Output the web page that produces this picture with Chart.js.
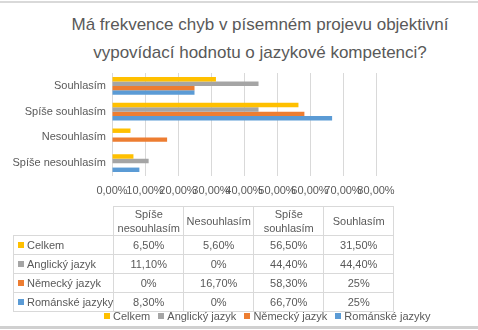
<!DOCTYPE html>
<html>
<head>
<meta charset="utf-8">
<script src="https://cdn.jsdelivr.net/npm/chart.js@4"></script>
<style>
  body { margin: 0; background: #fff; font-family: "Liberation Sans", Arial, sans-serif; color: #595959; }
  #wrap { position: relative; width: 478px; height: 330px; overflow: hidden; }
  #frame { position: absolute; left: 0; top: 1px; width: 478px; height: 323px; border-top: 2px solid #d9d9d9; border-bottom: 3px solid #d0d0d0; }
  #title { position: absolute; left: 42px; top: 11px; width: 436px; text-align: center; font-size: 17px; line-height: 28px; }
  canvas { position: absolute; left: 0; top: 0; }
  #dataTable { position: absolute; left: 13px; top: 206px; border-collapse: collapse; font-size: 11px; }
  #dataTable td, #dataTable th { border: 1px solid #d9d9d9; padding: 0; font-weight: normal; text-align: center; }
  #dataTable th { height: 28px; width: 69px; line-height: 14px; }
  #dataTable th.corner { border-top: none; border-left: none; width: 98px; }
  #dataTable td { height: 18px; }
  #dataTable td.name { text-align: left; padding-left: 4px; white-space: nowrap; }
  .mark { display: inline-block; width: 6px; height: 6px; margin-right: 3px; vertical-align: 1px; }
  #legend { position: absolute; left: 104px; top: 310px; font-size: 11px; white-space: nowrap; }
  #legend span.item { margin-right: 8px; }
</style>
</head>
<body>
<div id="wrap">
  <div id="frame"></div>
  <div id="title">Má frekvence chyb v písemném projevu objektivní<br>vypovídací hodnotu o jazykové kompetenci?</div>
  <canvas id="canvasChart" width="478" height="330"></canvas>
  <table id="dataTable"></table>
  <div id="legend"></div>
</div>
<script>
"use strict";

// categories as drawn top to bottom in the chart
var categories = ['Souhlasím', 'Spíše souhlasím', 'Nesouhlasím', 'Spíše nesouhlasím'];
// categories as listed in the table header
var tableCategories = ['Spíše nesouhlasím', 'Nesouhlasím', 'Spíše souhlasím', 'Souhlasím'];
var tableHeaders = ['Spíše<br>nesouhlasím', 'Nesouhlasím', 'Spíše<br>souhlasím', 'Souhlasím'];

var seriesNames = ['Celkem', 'Anglický jazyk', 'Německý jazyk', 'Románské jazyky'];
var seriesColors = ['#FFC000', '#A5A5A5', '#ED7D31', '#5B9BD5'];

// values in percent, in tableCategories order
var celkem = [6.5, 5.6, 56.5, 31.5];
var anglicky = [11.1, 0, 44.4, 44.4];
var nemecky = [0, 16.7, 58.3, 25];
var romanske = [8.3, 0, 66.7, 25];
var seriesValues = [celkem, anglicky, nemecky, romanske];

var xTicks = [0, 10, 20, 30, 40, 50, 60, 70, 80];

function formatPercent(v) {
    if (Number.isInteger(v)) return v + '%';
    return v.toFixed(2).replace('.', ',') + '%';
}

function valueFor(series, category) {
    return series[tableCategories.indexOf(category)];
}

var datasets = [];
seriesNames.forEach(function (name, i) {
    datasets.push({
        label: name,
        data: categories.map(function (c) { return valueFor(seriesValues[i], c); }),
        backgroundColor: seriesColors[i],
        borderWidth: 0,
        barPercentage: 1,
        categoryPercentage: 0.69
    });
});

const context = document.getElementById('canvasChart');
const myChart = new Chart(context, {
    type: 'bar',
    data: {
        labels: categories,
        datasets: datasets
    },
    options: {
        indexAxis: 'y',
        responsive: false,
        animation: false,
        layout: {
            padding: { top: 73, left: 0, right: 102, bottom: 124 }
        },
        plugins: {
            legend: { display: false },
            title: { display: false },
            tooltip: { enabled: false }
        },
        scales: {
            x: {
                min: 0,
                max: 80,
                afterBuildTicks: function (scale) {
                    scale.ticks = xTicks.map(function (v) { return { value: v }; });
                },
                afterFit: function (scale) { scale.height = 30; },
                grid: { color: '#d9d9d9', drawTicks: false },
                border: { display: false },
                ticks: {
                    autoSkip: false,
                    maxRotation: 0,
                    minRotation: 0,
                    padding: 8,
                    color: '#595959',
                    font: { family: '"Liberation Sans", Arial, sans-serif', size: 11 },
                    callback: function (v) { return v.toFixed(2).replace('.', ',') + '%'; }
                }
            },
            y: {
                afterFit: function (scale) { scale.width = 112; },
                grid: { display: false, drawTicks: false },
                border: { display: false },
                ticks: {
                    padding: 6,
                    color: '#595959',
                    font: { family: '"Liberation Sans", Arial, sans-serif', size: 11 }
                }
            }
        }
    }
});

// data table under the chart
var table = document.getElementById('dataTable');
var head = '<tr><th class="corner"></th>';
tableHeaders.forEach(function (h) { head += '<th>' + h + '</th>'; });
head += '</tr>';
var body = '';
seriesNames.forEach(function (name, i) {
    body += '<tr><td class="name"><span class="mark" style="background:' + seriesColors[i] + '"></span>' + name + '</td>';
    seriesValues[i].forEach(function (v) { body += '<td>' + formatPercent(v) + '</td>'; });
    body += '</tr>';
});
table.innerHTML = head + body;

// legend from the chart's datasets
var legend = document.getElementById('legend');
myChart.data.datasets.forEach(function (ds) {
    var item = document.createElement('span');
    item.className = 'item';
    item.innerHTML = '<span class="mark" style="background:' + ds.backgroundColor + '"></span>' + ds.label;
    legend.appendChild(item);
});
</script>
</body>
</html>
